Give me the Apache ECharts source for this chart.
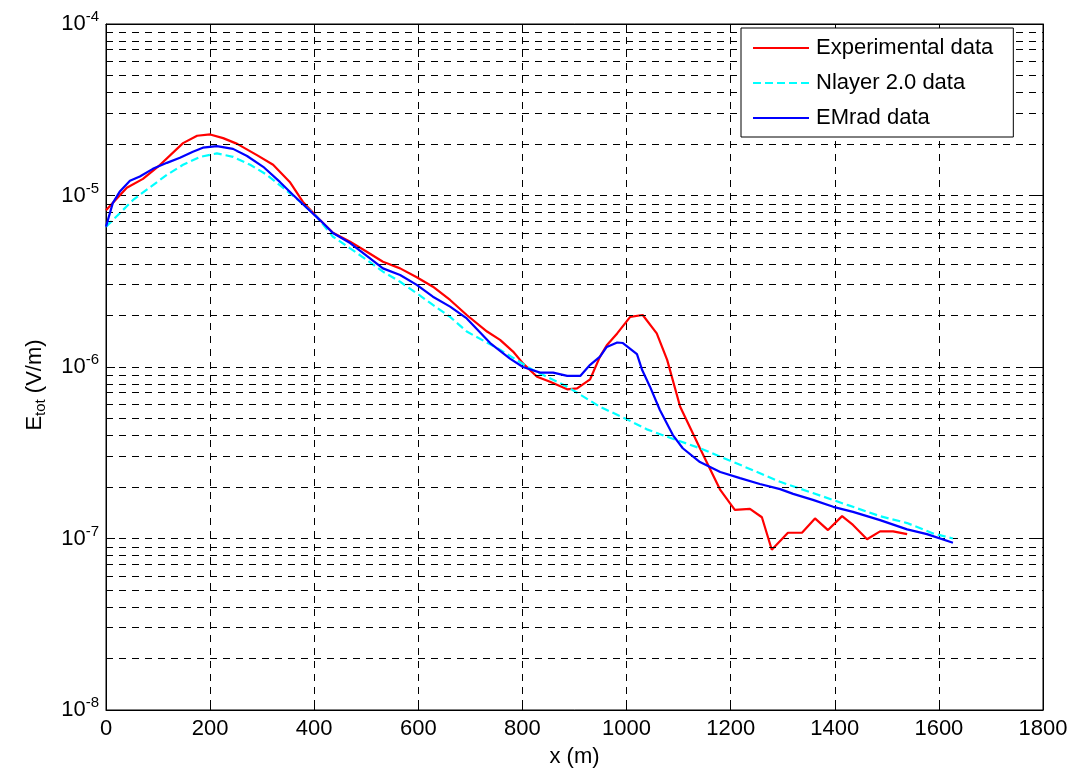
<!DOCTYPE html>
<html>
<head>
<meta charset="utf-8">
<script src="https://cdn.jsdelivr.net/npm/echarts@6/dist/echarts.min.js"></script>
<style>
  html, body { margin: 0; padding: 0; background: #fff; }
</style>
</head>
<body>
<div id="main" style="width: 1076px; height: 774px"></div>
<script type="text/javascript">
// values
var expX = [0, 40, 71, 104, 148, 175, 200, 225, 252, 290, 321, 353, 378, 411, 436, 469, 501, 532, 565, 597, 628, 661, 693, 732, 757, 782, 801, 828, 853, 886, 905, 930, 949, 962, 982, 1007, 1031, 1058, 1078, 1103, 1141, 1180, 1208, 1237, 1260, 1279, 1310, 1337, 1362, 1387, 1414, 1435, 1462, 1487, 1512, 1539];
var expY = [8.2e-6, 1.11e-5, 1.25e-5, 1.51e-5, 2.02e-5, 2.23e-5, 2.27e-5, 2.16e-5, 2.0e-5, 1.72e-5, 1.51e-5, 1.2e-5, 9.2e-6, 7.2e-6, 6.07e-6, 5.38e-6, 4.7e-6, 4.11e-6, 3.76e-6, 3.34e-6, 2.94e-6, 2.46e-6, 2.01e-6, 1.61e-6, 1.44e-6, 1.23e-6, 1.05e-6, 8.78e-7, 8.2e-7, 7.41e-7, 7.51e-7, 8.48e-7, 1.15e-6, 1.34e-6, 1.57e-6, 1.96e-6, 2.01e-6, 1.57e-6, 1.1e-6, 5.86e-7, 3.36e-7, 1.92e-7, 1.47e-7, 1.49e-7, 1.33e-7, 8.6e-8, 1.08e-7, 1.08e-7, 1.31e-7, 1.12e-7, 1.35e-7, 1.2e-7, 9.9e-8, 1.1e-7, 1.1e-7, 1.06e-7];

var nlayX = [0, 27, 52, 85, 117, 148, 181, 213, 244, 277, 309, 340, 373, 405, 436, 469, 501, 532, 565, 597, 628, 661, 693, 757, 820, 886, 949, 1001, 1039, 1078, 1141, 1218, 1295, 1358, 1424, 1487, 1539, 1589, 1627];
var nlayY = [6.58e-6, 7.91e-6, 9.42e-6, 1.12e-5, 1.32e-5, 1.51e-5, 1.68e-5, 1.76e-5, 1.68e-5, 1.51e-5, 1.32e-5, 1.11e-5, 9.2e-6, 7.52e-6, 5.75e-6, 4.92e-6, 4.21e-6, 3.6e-6, 3.14e-6, 2.69e-6, 2.3e-6, 1.96e-6, 1.61e-6, 1.26e-6, 9.6e-7, 7.68e-7, 5.86e-7, 4.95e-7, 4.33e-7, 3.92e-7, 3.36e-7, 2.69e-7, 2.14e-7, 1.84e-7, 1.57e-7, 1.35e-7, 1.23e-7, 1.07e-7, 1.0e-7];

var emX = [0, 13, 27, 46, 65, 90, 117, 142, 167, 186, 213, 244, 271, 302, 334, 359, 386, 411, 436, 469, 501, 532, 565, 597, 628, 661, 693, 738, 776, 801, 834, 859, 886, 911, 930, 949, 962, 982, 993, 1020, 1030, 1045, 1064, 1089, 1108, 1141, 1180, 1218, 1256, 1295, 1320, 1358, 1397, 1435, 1487, 1539, 1577, 1627];
var emY = [6.58e-6, 9.03e-6, 1.06e-5, 1.22e-5, 1.29e-5, 1.43e-5, 1.55e-5, 1.66e-5, 1.8e-5, 1.9e-5, 1.94e-5, 1.87e-5, 1.7e-5, 1.47e-5, 1.2e-5, 1.01e-5, 8.45e-6, 7.19e-6, 6.04e-6, 5.28e-6, 4.44e-6, 3.76e-6, 3.44e-6, 3.01e-6, 2.57e-6, 2.25e-6, 1.92e-6, 1.38e-6, 1.12e-6, 1.0e-6, 9.27e-7, 9.27e-7, 8.87e-7, 8.87e-7, 1.03e-6, 1.15e-6, 1.31e-6, 1.39e-6, 1.38e-6, 1.19e-6, 9.6e-7, 7.68e-7, 5.61e-7, 4.01e-7, 3.36e-7, 2.79e-7, 2.44e-7, 2.25e-7, 2.08e-7, 1.94e-7, 1.82e-7, 1.68e-7, 1.53e-7, 1.43e-7, 1.28e-7, 1.13e-7, 1.06e-7, 9.45e-8];

var seriesNames = ['Experimental data', 'Nlayer 2.0 data', 'EMrad data'];
var decades = [-8, -7, -6, -5];
var minorSteps = [2, 3, 4, 5, 6, 7, 8, 9];

function zip(xs, ys) {
  return xs.map(function (x, i) { return [x, ys[i]]; });
}

// minor grid lines of the log axis (2..9 x each decade), placed on a hidden
// linear axis that runs in log10 units
var minorLines = [];
decades.forEach(function (d) {
  minorSteps.forEach(function (m) {
    minorLines.push({ yAxis: d + Math.log10(m) });
  });
});

var font = 'Liberation Sans, Arial, sans-serif';
var gridDash = [7, 6];

var myChart = echarts.init(document.getElementById('main'));

myChart.setOption({
  animation: false,
  backgroundColor: '#fff',
  grid: {
    left: 106, top: 24, width: 937, height: 686,
    show: true, borderColor: '#000', borderWidth: 1, backgroundColor: '#fff'
  },
  legend: {
    orient: 'vertical',
    left: 741, top: 28,
    z: 50,
    padding: [9, 20, 8, 11],
    itemWidth: 56, itemHeight: 20, itemGap: 13,
    backgroundColor: '#fff',
    borderColor: '#000', borderWidth: 1,
    itemStyle: { opacity: 0 },
    textStyle: { fontFamily: font, fontSize: 22, color: '#000', padding: [0, 0, 0, 2] },
    data: seriesNames
  },
  xAxis: [{
    type: 'value',
    min: 0, max: 1800, interval: 200,
    name: 'x (m)', nameLocation: 'middle', nameGap: 36,
    nameTextStyle: { fontFamily: font, fontSize: 22, color: '#000' },
    axisLine: { show: true, onZero: false, lineStyle: { color: '#000', width: 1 } },
    axisTick: { show: true, inside: true, length: 9, lineStyle: { color: '#000' } },
    axisLabel: {
      fontFamily: font, fontSize: 22, color: '#000', margin: 8,
      formatter: function (v) { return String(v); }
    },
    splitLine: { show: true, lineStyle: { color: '#000', type: gridDash, width: 1 } }
  }, {
    type: 'value', position: 'top',
    min: 0, max: 1800, interval: 200,
    axisLine: { show: true, onZero: false, lineStyle: { color: '#000', width: 1 } },
    axisTick: { show: true, inside: true, length: 9, lineStyle: { color: '#000' } },
    axisLabel: { show: false },
    splitLine: { show: false }
  }],
  yAxis: [{
    type: 'log', logBase: 10,
    min: 1e-8, max: 1e-4,
    name: '{n|E}{sub|tot}{n| (V/m)}', nameLocation: 'middle', nameGap: 58,
    nameTextStyle: {
      fontFamily: font, fontSize: 22, color: '#000',
      padding: [0, 36, 0, 0],
      rich: {
        n: { fontFamily: font, fontSize: 22, color: '#000' },
        sub: { fontFamily: font, fontSize: 15, color: '#000', padding: [12, 0, 0, 0] }
      }
    },
    axisLine: { show: true, onZero: false, lineStyle: { color: '#000', width: 1 } },
    axisTick: { show: true, inside: true, length: 9, lineStyle: { color: '#000' } },
    axisLabel: {
      margin: 7,
      formatter: function (v) {
        var e = Math.round(Math.log10(v));
        return '{b|10}{s|' + e + '}';
      },
      rich: {
        b: { fontFamily: font, fontSize: 22, color: '#000' },
        s: { fontFamily: font, fontSize: 15, color: '#000', padding: [0, 0, 14, 0] }
      }
    },
    splitLine: { show: true, lineStyle: { color: '#000', type: gridDash, width: 1 } }
  }, {
    type: 'value', position: 'right',
    min: -8, max: -4, interval: 1,
    axisLine: { show: true, onZero: false, lineStyle: { color: '#000', width: 1 } },
    axisTick: { show: true, inside: true, length: 9, lineStyle: { color: '#000' } },
    axisLabel: { show: false },
    splitLine: { show: false }
  }],
  series: [
    {
      name: 'minor grid', type: 'line',
      xAxisIndex: 0, yAxisIndex: 1,
      data: [],
      silent: true,
      z: 1,
      markLine: {
        silent: true, symbol: 'none', animation: false,
        label: { show: false },
        lineStyle: { color: '#000', type: gridDash, width: 1 },
        emphasis: { disabled: true },
        data: minorLines
      }
    },
    {
      name: seriesNames[0], type: 'line',
      data: zip(expX, expY),
      showSymbol: false, symbol: 'none',
      lineStyle: { color: '#ff0000', width: 2.2 },
      itemStyle: { color: '#ff0000' },
      z: 3
    },
    {
      name: seriesNames[1], type: 'line',
      data: zip(nlayX, nlayY),
      showSymbol: false, symbol: 'none',
      lineStyle: { color: '#00ffff', width: 2.2, type: [8, 4] },
      itemStyle: { color: '#00ffff' },
      z: 4
    },
    {
      name: seriesNames[2], type: 'line',
      data: zip(emX, emY),
      showSymbol: false, symbol: 'none',
      lineStyle: { color: '#0000ff', width: 2.2 },
      itemStyle: { color: '#0000ff' },
      z: 5
    }
  ]
});
</script>
</body>
</html>
